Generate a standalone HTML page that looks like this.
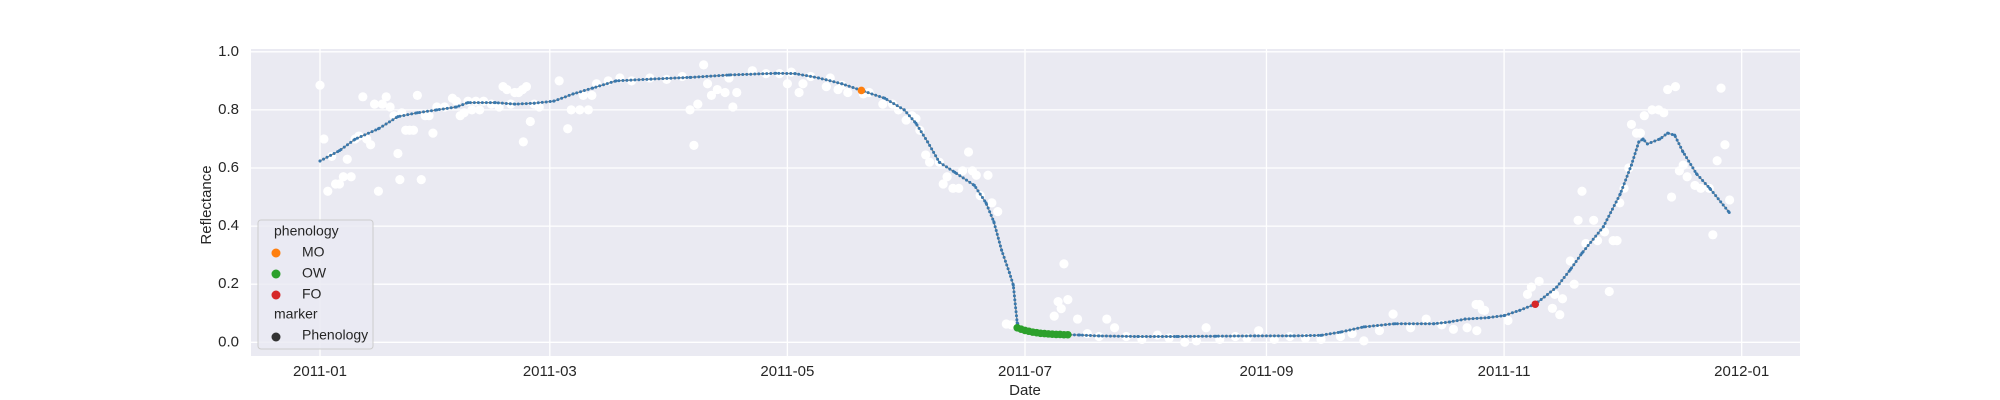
<!DOCTYPE html>
<html><head><meta charset="utf-8"><style>
html,body{margin:0;padding:0;background:#fff}
svg{display:block;font-family:"Liberation Sans",Arial,sans-serif}
</style></head><body>
<svg id="chart" width="2000" height="400" viewBox="0 0 2000 400">
<rect x="251" y="49" width="1549" height="307" fill="#eaeaf2"/>
<g id="grid"></g><g id="ticks"></g><g id="series"></g>
<text x="207" y="205" transform="rotate(-90 207 205)" text-anchor="middle" dominant-baseline="middle" font-size="15" fill="#262626">Reflectance</text>
<text x="1025" y="391" text-anchor="middle" dominant-baseline="middle" font-size="15" fill="#262626">Date</text>
<g>
<rect x="258" y="220" width="115" height="129" rx="3" fill="#eaeaf2" fill-opacity="0.8" stroke="#cccccc"/>
<text x="274" y="232" dominant-baseline="middle" font-size="14" fill="#262626">phenology</text>
<circle cx="276" cy="253" r="4.5" fill="#ff7f0e"/>
<text x="302" y="253" dominant-baseline="middle" font-size="14" fill="#262626">MO</text>
<circle cx="276" cy="274" r="4.5" fill="#2ca02c"/>
<text x="302" y="274" dominant-baseline="middle" font-size="14" fill="#262626">OW</text>
<circle cx="276" cy="295" r="4.5" fill="#d62728"/>
<text x="302" y="295" dominant-baseline="middle" font-size="14" fill="#262626">FO</text>
<text x="274" y="315" dominant-baseline="middle" font-size="14" fill="#262626">marker</text>
<circle cx="276" cy="337" r="4.5" fill="#333333"/>
<text x="302" y="336" dominant-baseline="middle" font-size="14" fill="#262626">Phenology</text>
</g>
</svg>
<script>
const xTickLabels=["2011-01","2011-03","2011-05","2011-07","2011-09","2011-11","2012-01"];
const xTickDays=[0,59,120,181,243,304,365];
const yTickValues=[0,0.2,0.4,0.6,0.8,1.0];
const curveDays=[0,5,9,15,20,25,30,35,38,45,50,55,60,65,70,76,85,95,105,117,122,128,134,139,145,150,153,156,159,163,168,171,173,175,177,178,179,180,181,182,183,184,185,186,187,188,189,190,191,192,195,200,210,220,230,240,250,257,262,268,276,286,290,294,300,304,308,312,317.5,321,324,329.5,333.8,336.7,338.6,339.7,340.8,344,346,347.8,349.9,353.4,356.8,361.8];
const curveValues=[0.624,0.66,0.699,0.735,0.777,0.79,0.80,0.81,0.825,0.825,0.82,0.823,0.83,0.855,0.875,0.90,0.906,0.912,0.92,0.926,0.925,0.91,0.89,0.867,0.84,0.80,0.754,0.69,0.62,0.585,0.54,0.48,0.415,0.317,0.24,0.197,0.067,0.047,0.043,0.039,0.036,0.034,0.032,0.031,0.03,0.029,0.028,0.027,0.027,0.026,0.025,0.022,0.02,0.02,0.021,0.022,0.022,0.024,0.035,0.053,0.064,0.064,0.07,0.08,0.085,0.092,0.11,0.131,0.19,0.25,0.307,0.398,0.51,0.61,0.69,0.70,0.683,0.70,0.72,0.713,0.656,0.58,0.53,0.447];
const moDays=[139];const moValues=[0.867];
const owDays=[179,180,181,182,183,184,185,186,187,188,189,190,191,192];
const owValues=[0.05,0.045,0.041,0.038,0.035,0.033,0.031,0.03,0.029,0.028,0.027,0.027,0.026,0.026];
const foDays=[312];const foValues=[0.131];
const obsDays=[0,1,2,3,4,5,6,7,8,9,10,11,12,13,14,15,16,17,18,19,20,20.5,21,22,23,24,25,26,27,28,29,30,32,34,35,36,37,38,39,40,41,42,44,46,47,48,49,50,51,52,52.2,53,54,55,56.3,61.4,63.6,64.5,66.7,67.6,68.9,69.8,71,74,77,80,84.7,89,93,95,96,97,98.5,99.5,100.5,102,104,105,106,107,111,114.5,118,120,121,123,124,126,130,131,133,134,135.5,139.5,141,144.5,147,148.5,150.5,152,153,154,155.5,156.5,159,160,161,162.5,164,165,166.5,167.5,168.5,169.5,171.5,172.5,174,176.2,177.5,188.5,189.5,190.3,191,192,194.5,197,200,202,204,207,211,215,218,222,225,227.5,231,235,238,241,245,249,253,257,262,265,268,272,275.5,280,284,288,291,294.5,296.8,297,297.7,298.4,299,305,310,311,313,316.4,317,318.3,319,321,322,323,324,325,327,328,329.8,331,332,333,333.7,334.8,336,336.7,338,339,340,342,343.7,345,346,347,348,349,350,351,353,354.5,356.7,357.6,358.7,359.7,360.7,361.9];
const obsValues=[0.885,0.70,0.52,0.64,0.545,0.545,0.57,0.63,0.57,0.70,0.71,0.845,0.70,0.68,0.82,0.52,0.82,0.845,0.81,0.78,0.65,0.56,0.79,0.73,0.73,0.73,0.85,0.56,0.78,0.78,0.72,0.81,0.81,0.84,0.83,0.78,0.79,0.83,0.80,0.83,0.80,0.83,0.82,0.81,0.88,0.87,0.82,0.86,0.86,0.87,0.69,0.88,0.76,0.82,0.81,0.90,0.735,0.80,0.80,0.85,0.80,0.85,0.89,0.90,0.91,0.90,0.91,0.905,0.915,0.80,0.678,0.82,0.955,0.89,0.85,0.87,0.86,0.91,0.81,0.86,0.935,0.925,0.925,0.89,0.93,0.86,0.89,0.915,0.88,0.91,0.87,0.885,0.86,0.855,0.86,0.82,0.82,0.80,0.765,0.78,0.77,0.73,0.645,0.62,0.62,0.545,0.57,0.53,0.53,0.59,0.655,0.59,0.575,0.505,0.575,0.48,0.45,0.063,0.06,0.09,0.14,0.116,0.27,0.147,0.08,0.03,0.02,0.08,0.05,0.02,0.01,0.025,0.015,0.00,0.005,0.05,0.01,0.02,0.015,0.04,0.01,0.02,0.015,0.01,0.02,0.03,0.005,0.04,0.097,0.05,0.08,0.06,0.045,0.05,0.13,0.04,0.13,0.112,0.11,0.075,0.165,0.19,0.21,0.117,0.165,0.095,0.15,0.28,0.2,0.42,0.52,0.34,0.42,0.35,0.38,0.175,0.35,0.35,0.48,0.53,0.60,0.75,0.72,0.72,0.78,0.80,0.80,0.79,0.87,0.50,0.88,0.59,0.61,0.57,0.54,0.53,0.53,0.37,0.625,0.875,0.68,0.49];

const NS="http://www.w3.org/2000/svg";
const X0=320,PXD=3.895,Y0=342.3,PYV=290.5,L=251,R=1800,T=49,B=356;
function xs(d){return X0+d*PXD}
function ys(v){return Y0-v*PYV}
function mk(tag,attrs,parent){const e=document.createElementNS(NS,tag);for(const k in attrs)e.setAttribute(k,attrs[k]);parent.appendChild(e);return e}
const grid=document.getElementById('grid'),ticks=document.getElementById('ticks'),series=document.getElementById('series');
yTickValues.forEach(v=>{
  const ln=mk('line',{x1:L,x2:R,y1:ys(v),y2:ys(v),stroke:'#fff','stroke-width':1.3},grid);
  
  
  const t=mk('text',{x:239,y:ys(v),'text-anchor':'end','dominant-baseline':'middle','font-size':15,fill:'#262626'},ticks);
  t.textContent=v.toFixed(1);
  
  
});
xTickDays.forEach((d,i)=>{
  const ln=mk('line',{x1:xs(d),x2:xs(d),y1:T,y2:B,stroke:'#fff','stroke-width':1.3},grid);
  
  
  const t=mk('text',{x:xs(d),y:372,'text-anchor':'middle','dominant-baseline':'middle','font-size':15,fill:'#262626'},ticks);
  t.textContent=xTickLabels[i];
  
  
});
obsDays.forEach((d,i)=>{
  const c=mk('circle',{cx:xs(d),cy:ys(obsValues[i]),r:4.6,fill:'#fff'},series);
  
  
});
const dPath=curveDays.map((d,i)=>(i?'L':'M')+xs(d).toFixed(1)+' '+ys(curveValues[i]).toFixed(1)).join('');
const path=mk('path',{d:dPath,fill:'none',stroke:'#808080','stroke-width':1.2},series);


const dots=mk('path',{d:dPath,fill:'none',stroke:'#3a78ac','stroke-width':3,'stroke-linecap':'round','stroke-dasharray':'0 4'},series);


curveDays.forEach((d,i)=>{
  const c=mk('circle',{cx:xs(d),cy:ys(curveValues[i]),r:1.5,fill:'#3a78ac'},series);
  
  
});
function pts(days,vals,col,name){days.forEach((d,i)=>{
  const c=mk('circle',{cx:xs(d),cy:ys(vals[i]),r:3.8,fill:col},series);
  
  
});}
pts(owDays,owValues,'#2ca02c','ow-point');
pts(moDays,moValues,'#ff7f0e','mo-point');
pts(foDays,foValues,'#d62728','fo-point');
</script>
</body></html>
